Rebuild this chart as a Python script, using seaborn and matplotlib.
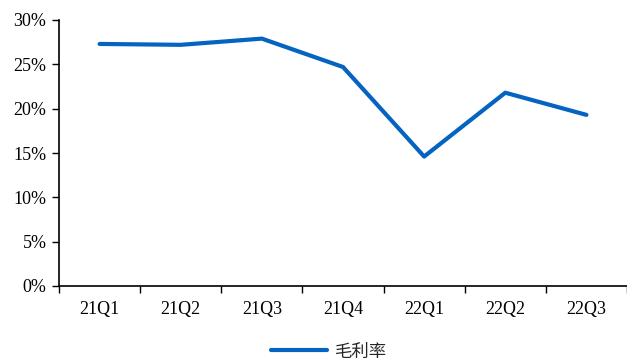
import matplotlib
matplotlib.use("Agg")
import matplotlib.pyplot as plt
from matplotlib.ticker import FixedLocator, PercentFormatter
import seaborn as sns
import pandas as pd

quarters = ["21Q1", "21Q2", "21Q3", "21Q4", "22Q1", "22Q2", "22Q3"]
gross_margin = [27.3, 27.2, 27.9, 24.7, 14.6, 21.8, 19.3]
series_name = "毛利率"

sns.set_theme(style="white")
plt.rcParams["font.family"] = ["Liberation Serif", "Noto Sans CJK SC", "DejaVu Sans"]

df = pd.DataFrame({"quarter": quarters, "value": gross_margin, "series": series_name})

fig = plt.figure(figsize=(6.27, 3.60), dpi=100)
ax = fig.add_axes([59 / 627, 74 / 360, 1 - 59 / 627, 266 / 360])

sns.lineplot(data=df, x="quarter", y="value", hue="series", sort=False,
             palette=["#0563C1"], linewidth=3.0, ax=ax, legend=True)

ax.set_xlim(-0.5, len(quarters) - 0.5)
ax.set_ylim(0, 30)
ax.set_yticks(range(0, 31, 5))
ax.yaxis.set_major_formatter(PercentFormatter(decimals=0))
ax.xaxis.set_minor_locator(FixedLocator([i - 0.5 for i in range(len(quarters) + 1)]))
ax.tick_params(axis="x", which="major", length=0, pad=11, labelsize=13, colors="black")
ax.tick_params(axis="x", which="minor", length=5, width=1, color="black", direction="out", bottom=True)
ax.tick_params(axis="y", which="major", length=5, width=1, color="black", direction="out",
               left=True, pad=4, labelsize=13, labelcolor="black")
ax.set_xlabel("")
ax.set_ylabel("")

for side in ("top", "right"):
    ax.spines[side].set_visible(False)
for side in ("left", "bottom"):
    ax.spines[side].set_color("black")
    ax.spines[side].set_linewidth(1.2)

handles, labels = ax.get_legend_handles_labels()
ax.get_legend().remove()
fig.legend(handles, labels, loc="lower center", bbox_to_anchor=(0.525, -0.045),
           frameon=False, prop={"family": ["Noto Sans CJK SC"], "size": 12.5},
           handlelength=3.2, handletextpad=0.5)

fig.savefig("out.png", dpi=100)
